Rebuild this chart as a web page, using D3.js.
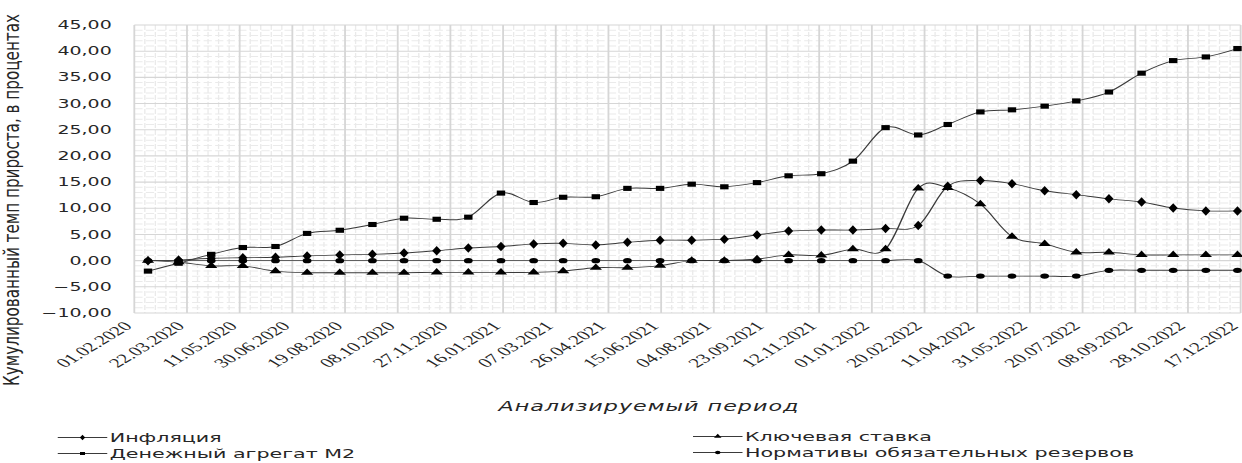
<!DOCTYPE html>
<html><head><meta charset="utf-8">
<script src="https://cdn.jsdelivr.net/npm/d3@7"></script>
<style>
html,body{margin:0;padding:0;background:#fff;}
svg{display:block;}
</style></head>
<body>
<svg id="chart" width="1242" height="463"></svg>
<script>
// ---- data ----
const categories = ["14.02.2020","14.03.2020","14.04.2020","14.05.2020","14.06.2020","14.07.2020","14.08.2020","14.09.2020","14.10.2020","14.11.2020","14.12.2020",
  "14.01.2021","14.02.2021","14.03.2021","14.04.2021","14.05.2021","14.06.2021","14.07.2021","14.08.2021","14.09.2021","14.10.2021","14.11.2021","14.12.2021",
  "14.01.2022","14.02.2022","14.03.2022","14.04.2022","14.05.2022","14.06.2022","14.07.2022","14.08.2022","14.09.2022","14.10.2022","14.11.2022","14.12.2022"];
const inflation = [0.0,0.1,0.45,0.55,0.65,0.9,1.1,1.2,1.45,1.9,2.4,2.7,3.2,3.3,3.0,3.5,3.9,3.9,4.1,4.9,5.65,5.85,5.85,6.15,6.7,14.2,15.3,14.7,13.35,12.6,11.8,11.2,10.05,9.5,9.5];
const moneyM2 = [-2.0,-0.5,1.2,2.5,2.7,5.2,5.8,6.9,8.1,7.9,8.3,12.9,11.1,12.1,12.2,13.8,13.8,14.6,14.1,14.9,16.2,16.6,19.0,25.4,24.0,26.0,28.4,28.8,29.5,30.5,32.2,35.8,38.2,38.9,40.5];
const keyRate = [0.0,-0.3,-1.0,-1.0,-2.0,-2.3,-2.3,-2.3,-2.3,-2.25,-2.25,-2.25,-2.25,-2.0,-1.35,-1.35,-0.95,0.0,0.0,0.3,1.1,1.0,2.2,2.2,13.8,13.9,10.8,4.6,3.2,1.6,1.6,1.1,1.1,1.1,1.1];
const reserves = [0,0,0,0,0,0,0,0,0,0,0,0,0,0,0,0,0,0,0,0,0,0,0,0,0,-2.95,-2.95,-2.95,-2.95,-2.95,-1.85,-1.85,-1.85,-1.85,-1.85];
const seriesNames = ["Инфляция","Денежный агрегат М2","Ключевая ставка","Нормативы обязательных резервов"];
const xTickLabels = ["01.02.2020","22.03.2020","11.05.2020","30.06.2020","19.08.2020","08.10.2020","27.11.2020","16.01.2021","07.03.2021","26.04.2021","15.06.2021",
  "04.08.2021","23.09.2021","12.11.2021","01.01.2022","20.02.2022","11.04.2022","31.05.2022","20.07.2022","08.09.2022","28.10.2022","17.12.2022"];
const yTicks = [-10,-5,0,5,10,15,20,25,30,35,40,45];
const yTitle = "Кумулированный темп прироста, в процентах";
const xTitle = "Анализируемый период";

// ---- layout ----
const SX = 1.65;              // horizontal stretch of the original picture
const plot = {left: 81.4, right: 751.9, top: 25, bottom: 313};
const parse = d3.utcParse("%d.%m.%Y");
const dates = categories.map(parse);
const tickDates = xTickLabels.map(parse);

const x = d3.scaleUtc().domain([tickDates[0], tickDates[tickDates.length-1]]).range([plot.left, plot.right]);
const y = d3.scaleLinear().domain([-10, 45]).range([plot.bottom, plot.top]);

const svg = d3.select("#chart");
const root = svg.append("g").attr("transform", `scale(${SX},1)`);

const FONT = "'DejaVu Sans', 'Open Sans', sans-serif";

// grid: minor
const g = root.append("g");
const minorY = d3.range(-10, 45.001, 1).filter(v => v % 5 !== 0);
g.selectAll(".hminor").data(minorY).join("line")
  .attr("x1", plot.left).attr("x2", plot.right)
  .attr("y1", d => y(d)).attr("y2", d => y(d))
  .attr("stroke", "#eaeaea").attr("stroke-width", 1).attr("stroke-dasharray", "5,2");
const minorX = [];
tickDates.slice(0, -1).forEach(t => { for (let k = 10; k < 50; k += 10) minorX.push(d3.utcDay.offset(t, k)); });
g.selectAll(".vminor").data(minorX).join("line")
  .attr("x1", d => x(d)).attr("x2", d => x(d))
  .attr("y1", plot.top).attr("y2", plot.bottom)
  .attr("stroke", "#eaeaea").attr("stroke-width", 0.8).attr("stroke-dasharray", "5,2");
// grid: major
g.selectAll(".hmajor").data(yTicks).join("line")
  .attr("x1", plot.left).attr("x2", plot.right)
  .attr("y1", d => y(d)).attr("y2", d => y(d))
  .attr("stroke", "#d6d6d6").attr("stroke-width", 1.1);
g.selectAll(".vmajor").data(tickDates).join("line")
  .attr("x1", d => x(d)).attr("x2", d => x(d))
  .attr("y1", plot.top).attr("y2", plot.bottom)
  .attr("stroke", "#d6d6d6").attr("stroke-width", 1.1);

// y tick labels
root.append("g").selectAll("text").data(yTicks).join("text")
  .attr("x", 67.7).attr("y", d => y(d)).attr("dy", "0.36em")
  .attr("text-anchor", "end")
  .attr("font-family", FONT).attr("font-size", 11.5).attr("fill", "#262626")
  .text(d => d3.format(".2f")(d).replace(".", ","));

// x tick labels
root.append("g").selectAll("text").data(tickDates).join("text")
  .attr("transform", d => `translate(${x(d) - 0.8},${plot.bottom + 14}) rotate(-45)`)
  .attr("text-anchor", "end")
  .attr("font-family", "'Liberation Serif', 'DejaVu Serif', serif").attr("font-size", 13).attr("fill", "#262626")
  .text((d, i) => xTickLabels[i]);

// axis titles
root.append("text")
  .attr("transform", `translate(11.5,200) rotate(-90)`)
  .attr("text-anchor", "middle")
  .attr("font-family", "'Liberation Sans Narrow','DejaVu Sans Condensed','Liberation Sans',sans-serif")
  .attr("font-size", 12.5).attr("fill", "#262626")
  .attr("textLength", 372).attr("lengthAdjust", "spacingAndGlyphs")
  .text(yTitle);
root.append("text")
  .attr("x", 393.3).attr("y", 411)
  .attr("text-anchor", "middle")
  .attr("font-family", FONT).attr("font-style", "italic").attr("font-size", 13.5).attr("fill", "#262626")
  .attr("letter-spacing", 0.6)
  .text(xTitle);

// series
const symbols = [d3.symbolDiamond, d3.symbolSquare, d3.symbolTriangle, d3.symbolCircle];
const sizes = [26, 26, 24, 22];
const allSeries = [inflation, moneyM2, keyRate, reserves];
const line = d3.line().x((d, i) => x(dates[i])).y(d => y(d)).curve(d3.curveCardinal.tension(0));
const sg = root.append("g");
allSeries.forEach((vals, s) => {
  sg.append("path").datum(vals).attr("d", line)
    .attr("fill", "none").attr("stroke", "#3a3a3a").attr("stroke-width", 0.9);
});
allSeries.forEach((vals, s) => {
  sg.append("g").selectAll("path").data(vals).join("path")
    .attr("transform", (d, i) => `translate(${x(dates[i])},${y(d)})`)
    .attr("d", d3.symbol().type(symbols[s]).size(sizes[s]))
    .attr("fill", "#000");
});

// legend
const legendItems = [
  {name: seriesNames[0], s: 0, x0: 35, ty: 437.5},
  {name: seriesNames[1], s: 1, x0: 35, ty: 453.5},
  {name: seriesNames[2], s: 2, x0: 420, ty: 436.5},
  {name: seriesNames[3], s: 3, x0: 420, ty: 452.5}
];
const lg = root.append("g");
legendItems.forEach(it => {
  lg.append("line").attr("x1", it.x0).attr("x2", it.x0 + 30).attr("y1", it.ty).attr("y2", it.ty)
    .attr("stroke", "#3a3a3a").attr("stroke-width", 0.9);
  lg.append("path").attr("transform", `translate(${it.x0 + 15},${it.ty})`)
    .attr("d", d3.symbol().type(symbols[it.s]).size(9)).attr("fill", "#000");
  lg.append("text").attr("x", it.x0 + 31.5).attr("y", it.ty).attr("dy", "0.36em")
    .attr("font-family", FONT).attr("font-size", 12.5).attr("fill", "#262626")
    .text(it.name);
});
</script>
</body></html>
